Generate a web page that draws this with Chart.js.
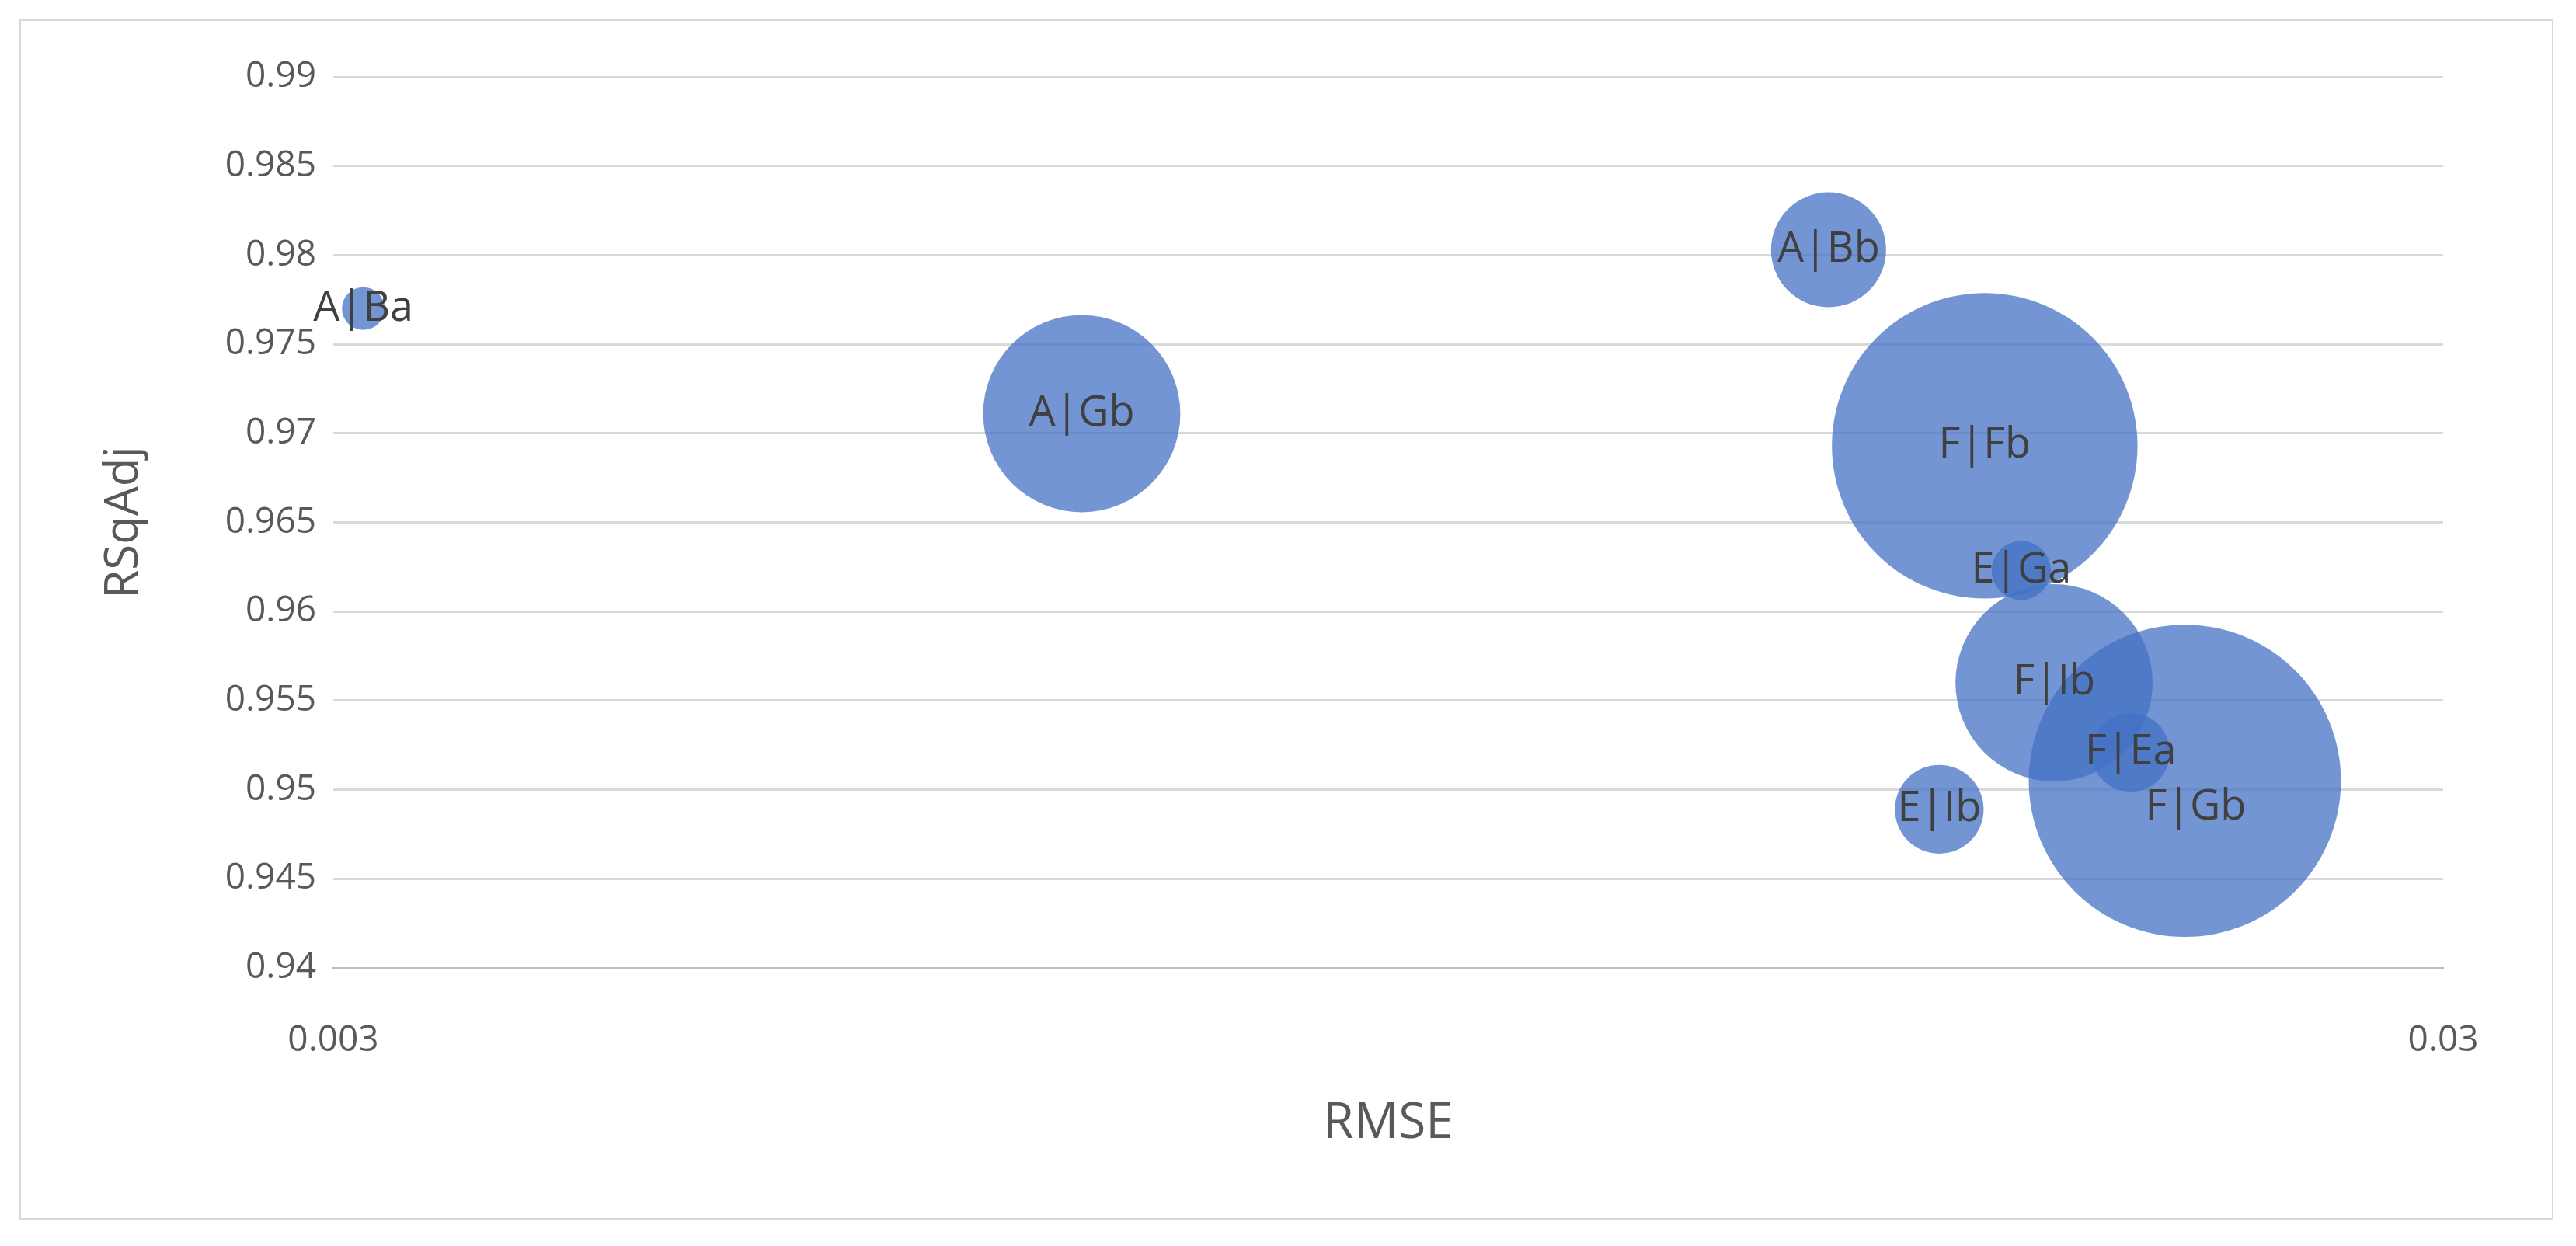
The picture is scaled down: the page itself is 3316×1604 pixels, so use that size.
<!DOCTYPE html>
<html><head><meta charset="utf-8">
<script src="https://cdn.jsdelivr.net/npm/chart.js@4/dist/chart.umd.min.js"></script>
<style>
html,body{margin:0;padding:0;background:#fff;}
#wrap{position:absolute;left:0;top:0;width:3316px;height:1604px;}
#frame{position:absolute;left:25px;top:25px;width:3262px;height:1545px;border:2px solid #d9d9d9;box-sizing:border-box;}
</style></head><body>
<div id="frame"></div>
<div id="wrap"><canvas id="c" width="3316" height="1604"></canvas></div>
<script>
const labels = ["A|Ba","A|Gb","A|Bb","F|Fb","E|Ga","F|Ib","F|Ea","F|Gb","E|Ib"];
const rmse   = [0.00310,0.00679,0.01534,0.01819,0.01893,0.01962,0.02133,0.02263,0.01731];
const rsqAdj = [0.9770,0.9711,0.9803,0.9693,0.9623,0.9560,0.9521,0.9505,0.9489];
const bubbleSize = [169,3600,1225,8649,324,3600,576,9025,729];
const xTicks = [0.003,0.03];

Chart.controllers.bubble.prototype.getMaxOverflow = function(){ return 0; };

const data = labels.map((l,i)=>({x:rmse[i],y:rsqAdj[i],s:bubbleSize[i],label:l}));
const labelPlugin = {
  id:'lbl',
  afterDatasetsDraw(chart){
    const ctx=chart.ctx, meta=chart.getDatasetMeta(0);
    ctx.save();
    ctx.font='54px "Open Sans", "Noto Sans", sans-serif';
    ctx.fillStyle='#404040';ctx.textAlign='center';ctx.textBaseline='middle';
    meta.data.forEach((el,i)=>{
      let dx=0,dy=0;
      if(labels[i]==="F|Gb"){dy=34;dx=14;}
      ctx.fillText(labels[i],el.x+dx,el.y+dy);
    });
    ctx.restore();
  }
};
new Chart(document.getElementById('c'),{
  type:'bubble',
  data:{datasets:[{data,clip:false,
    backgroundColor:'rgba(68,114,196,0.75)',borderWidth:0,
    radius:(c)=>{const d=c.raw; return d?2.115*Math.sqrt(d.s):0;},
    hoverRadius:0}]},
  options:{
    responsive:false,animation:false,
    layout:{padding:{left:120,top:99,right:171,bottom:60}},
    plugins:{legend:{display:false},tooltip:{enabled:false}},
    scales:{
      x:{type:'logarithmic',min:0.003,max:0.03,
        afterBuildTicks(s){s.ticks=xTicks.map(v=>({value:v}));},
        ticks:{callback:(v)=>String(v),color:'#595959',font:{size:46,family:'"Open Sans", sans-serif'},padding:66,maxRotation:0},
        grid:{display:false,drawTicks:false},
        border:{display:true,color:'#bfbfbf',width:3},
        title:{display:true,text:'RMSE',color:'#595959',font:{size:64,family:'"Open Sans", sans-serif'},padding:{top:0,bottom:59}},
        afterFit(s){s.height=298;}
      },
      y:{min:0.94,max:0.99,
        ticks:{stepSize:0.005,callback:(v)=>String(Math.round(v*1000)/1000),color:'#595959',font:{size:46,family:'"Open Sans", sans-serif'},padding:22},
        grid:{color:'#d9d9d9',lineWidth:3,drawTicks:false},
        border:{display:false},
        title:{display:true,text:'RSqAdj',color:'#595959',font:{size:60,family:'"Open Sans", sans-serif'},padding:{bottom:20}},
        afterFit(s){s.width=309;}
      }
    }
  },
  plugins:[labelPlugin]
});
</script></body></html>
